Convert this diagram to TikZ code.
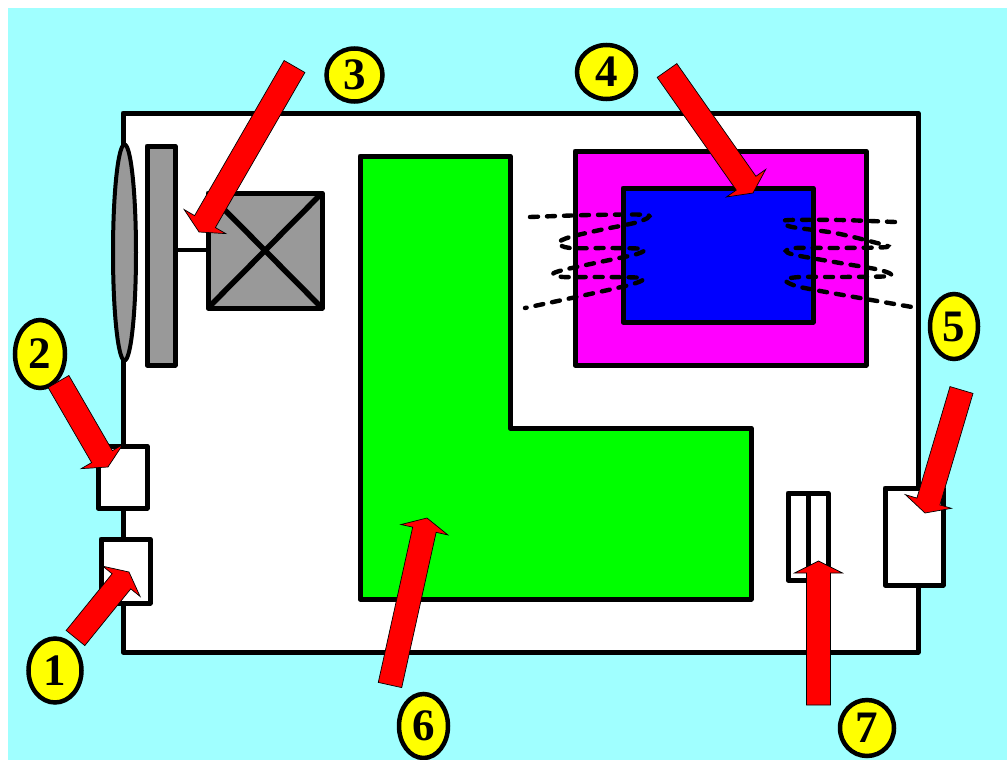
\documentclass[tikz,border=0pt]{standalone}
\usepackage{fontspec}
\setmainfont{Liberation Serif}
\usetikzlibrary{calc,shapes.geometric}
\definecolor{bgcyan}{HTML}{A0FFFF}
\definecolor{partgray}{HTML}{999999}
\definecolor{partgreen}{HTML}{00FF00}
\definecolor{partmagenta}{HTML}{FF00FF}
\definecolor{partblue}{HTML}{0000FF}
\definecolor{partyellow}{HTML}{FFFF00}
\definecolor{partred}{HTML}{FF0000}
\tikzset{
  part/.style={draw=black,line width=5pt,line join=round},
  numberdisc/.style={ellipse,draw=black,line width=4.5pt,fill=partyellow,inner sep=0pt,
    font=\fontsize{45}{50}\selectfont\bfseries},
  coil/.style={draw=black,line width=4.4pt,line cap=round,dash pattern=on 8pt off 9pt},
  blockshape/.style={fill=partred,draw=black,line width=0.7pt,line join=miter}
}
\newcommand{\blockarrow}[3]{%
  \coordinate (#1s) at #2;
  \coordinate (#1t) at #3;
  \coordinate (#1n) at ($(#1t)!12pt!(#1s)$);
  \filldraw[blockshape]
    ($(#1s)!12pt!90:(#1t)$) -- ($(#1n)!12pt!90:(#1t)$) -- ($(#1n)!24pt!90:(#1t)$) --
    (#1t) --
    ($(#1n)!24pt!-90:(#1t)$) -- ($(#1n)!12pt!-90:(#1t)$) -- ($(#1s)!12pt!-90:(#1t)$) -- cycle;
}
\begin{document}
\begin{tikzpicture}[x=1pt,y=-1pt]
\useasboundingbox (0,0) rectangle (1007,760);
\fill[white] (0,0) rectangle (1007,760);
\fill[bgcyan] (8,8) rectangle (1007,760);
% housing
\draw[part,fill=white] (123,113) rectangle (918,652);
% lens, plate, motor
\draw[part,fill=partgray,line width=4pt] (124.5,252.5) ellipse [x radius=11.5,y radius=108];
\draw[part,fill=partgray] (147,146) rectangle (175,365);
\draw[part,fill=partgray] (208,193) rectangle (322,308);
\draw[part,line width=5.5pt] (208,193) -- (322,308) (322,193) -- (208,308);
\draw[part,line width=4pt] (175,250) -- (208,250);
% green block
\draw[part,fill=partgreen] (360,156) -- (510,156) -- (510,428) -- (751,428) -- (751,599) -- (360,599) -- cycle;
% magnet
\draw[part,fill=partmagenta] (575,151) rectangle (866,365);
\draw[part,fill=partblue] (623,188) rectangle (813,322);
% coils
\draw[coil] plot[smooth,tension=0.5] coordinates {(530,217) (590,215) (647,215) (638,222) (600,230) (570,237) (558,243) (570,248) (610,248) (643,249) (637,254) (600,262) (563,270) (553,274) (563,277) (600,277) (642,278) (633,284) (590,294) (525,308)};
\draw[coil] plot[smooth,tension=0.5] coordinates {(895,222) (840,220) (790,220) (783,222) (792,227) (835,233) (873,242) (887,247) (840,248) (795,248) (786,251) (795,255) (840,263) (880,270) (890,276) (840,277) (800,277) (785,280) (800,287) (860,298) (912,307)};
% side boxes
\draw[part,fill=white] (98,446) rectangle (147,508);
\draw[part,fill=white] (101,539) rectangle (150,603);
\draw[part,fill=white] (885,488) rectangle (943,585);
\draw[part,fill=white] (788,493) rectangle (828,580);
\draw[part] (808,493) -- (808,580);
% number discs
\node[numberdisc,minimum width=53pt,minimum height=64pt] (n1) at (55,670.5) {1};
\node[numberdisc,minimum width=50pt,minimum height=68pt] (n2) at (40,354) {2};
\node[numberdisc,minimum width=56pt,minimum height=53pt] (n3) at (354.5,75) {3};
\node[numberdisc,minimum width=59pt,minimum height=54pt] (n4) at (606.5,72) {4};
\node[numberdisc,minimum width=48pt,minimum height=65pt] (n5) at (954,326.5) {5};
\node[numberdisc,minimum width=49pt,minimum height=64pt] (n6) at (423.5,726) {6};
\node[numberdisc,minimum width=54pt,minimum height=56pt] (n7) at (867,728) {7};
% arrows
\blockarrow{aone}{(75.5,638)}{(129,572)}
\blockarrow{atwo}{(58.5,381.5)}{(108,467)}
\blockarrow{athree}{(294.5,66.5)}{(199,232)}
\blockarrow{afour}{(667,70.5)}{(753,193)}
\blockarrow{afive}{(961.5,390)}{(925,513)}
\blockarrow{asix}{(390,685)}{(427,518)}
\blockarrow{aseven}{(818.5,705)}{(818.5,561)}
\end{tikzpicture}
\end{document}
